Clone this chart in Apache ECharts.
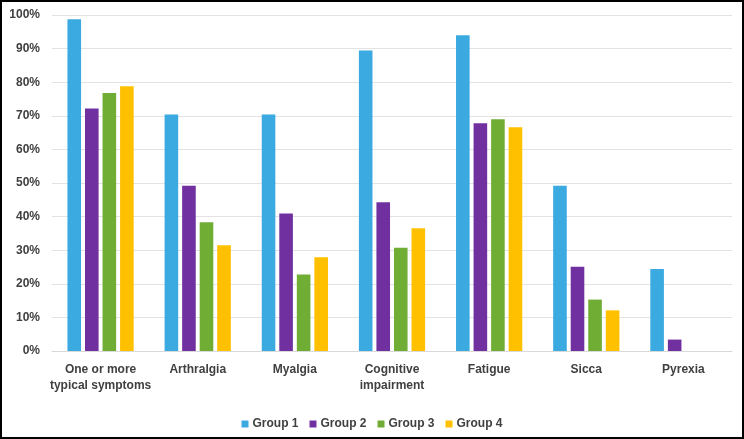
<!DOCTYPE html>
<html>
<head>
<meta charset="utf-8">
<script src="https://cdn.jsdelivr.net/npm/echarts@6/dist/echarts.min.js"></script>
<style>
html,body{margin:0;padding:0;background:#fff;}
#chart{position:absolute;left:0;top:0;width:744px;height:439px;}
#frame{position:absolute;left:0;top:0;width:744px;height:439px;box-sizing:border-box;border:2px solid #000;pointer-events:none;}
</style>
</head>
<body>
<div id="chart"></div>
<div id="frame"></div>
<script>
var categories = ["One or more\ntypical symptoms", "Arthralgia", "Myalgia", "Cognitive\nimpairment", "Fatigue", "Sicca", "Pyrexia"];
var group1 = [98.7, 70.4, 70.4, 89.4, 94.0, 49.2, 24.4];
var group2 = [72.2, 49.2, 40.9, 44.3, 67.8, 25.1, 3.4];
var group3 = [76.8, 38.3, 22.8, 30.7, 69.0, 15.3, 0];
var group4 = [78.8, 31.5, 27.9, 36.5, 66.6, 12.1, 0];
var seriesNames = ["Group 1", "Group 2", "Group 3", "Group 4"];
var colors = ["#3AAAE1", "#7030A0", "#70AD35", "#FFC000"];

var font = "Liberation Sans";
var textColor = "#404040";
var chart = echarts.init(document.getElementById('chart'), null, {renderer: 'canvas'});
var data = [group1, group2, group3, group4];
chart.setOption({
  animation: false,
  grid: {left: 52, right: 12, top: 15, bottom: 88, containLabel: false},
  legend: {
    bottom: 4, left: 'center',
    itemWidth: 7, itemHeight: 7, itemGap: 11,
    icon: 'rect',
    textStyle: {fontFamily: font, fontWeight: 'bold', fontSize: 12, color: textColor, padding: [0,0,0,-1]},
    data: seriesNames
  },
  xAxis: {
    type: 'category',
    data: categories,
    axisTick: {show: false},
    axisLine: {lineStyle: {color: '#D9D9D9', width: 1}},
    axisLabel: {fontFamily: font, fontWeight: 'bold', fontSize: 12, color: textColor, margin: 11, lineHeight: 16, interval: 0}
  },
  yAxis: {
    type: 'value', min: 0, max: 100, interval: 10,
    axisLabel: {formatter: '{value}%', fontFamily: font, fontWeight: 'bold', fontSize: 12, color: textColor, margin: 12},
    splitLine: {lineStyle: {color: '#E3E3E3', width: 1}},
    axisLine: {show: false}, axisTick: {show: false}
  },
  series: seriesNames.map(function(n, i){
    return {name: n, type: 'bar', data: data[i], barWidth: 13.6, barGap: '29%',
      itemStyle: {color: colors[i]}};
  })
});
</script>
</body>
</html>
